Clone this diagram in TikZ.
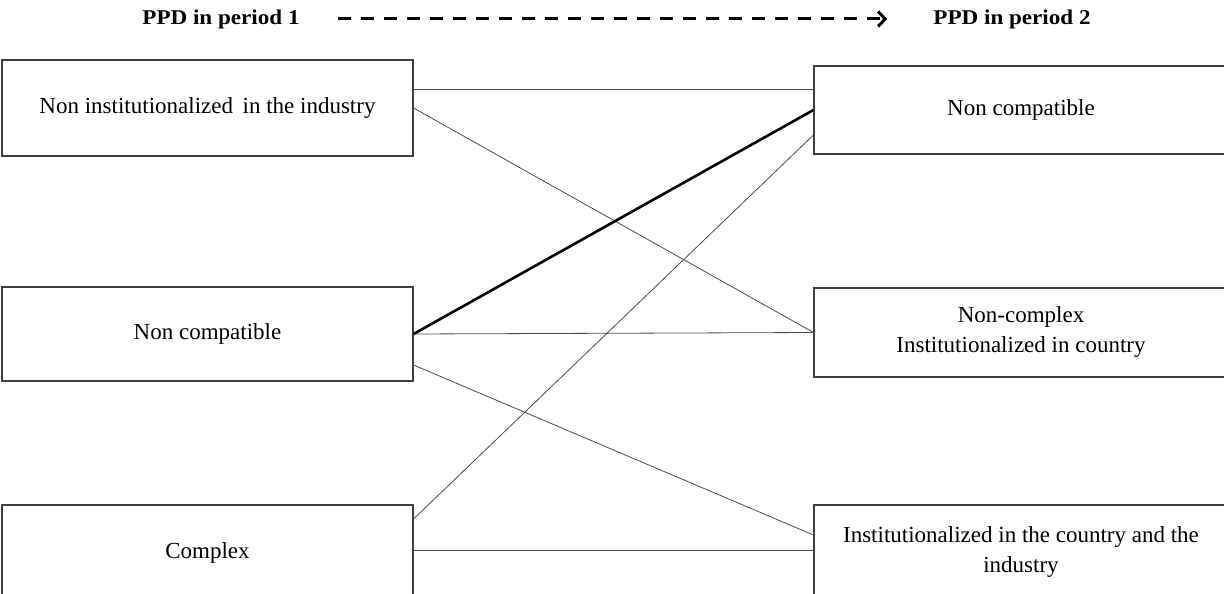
\documentclass[tikz,border=0pt]{standalone}
\usepackage{fontspec}
\setmainfont{Liberation Serif}
\usetikzlibrary{arrows.meta}
\begin{document}
\begin{tikzpicture}[x=1pt,y=-1pt,
  box/.style={draw=black!75, line width=1.1pt, rectangle, inner sep=0pt, align=center,
    font=\fontsize{23}{30}\selectfont},
  lbox/.style={box, minimum width=411pt},
  rbox/.style={box, minimum width=414pt},
  head/.style={inner sep=0pt, font=\bfseries\fontsize{21}{24}\selectfont},
  link/.style={draw=black!70, line width=0.8pt},
  strong/.style={draw=black, line width=2.6pt}]
\useasboundingbox (0,0) rectangle (1224,594);
\clip (0,0) rectangle (1224,594);
% header
\node[head] (p1) at (221,19) {\scalebox{1.1}[1]{PPD in period 1}};
\node[head] (p2) at (1012,19) {\scalebox{1.1}[1]{PPD in period 2}};
\draw[line width=3pt, dash pattern=on 13pt off 10pt,
  -{Straight Barb[length=7pt,width=15pt,line width=3pt]},
  shorten <=38pt, shorten >=46pt] (p1.east) -- (p2.west);
% left boxes
\node[lbox, minimum height=96pt] (l1) at (207.5,108) {Non institutionalized\, in the industry};
\node[lbox, minimum height=94pt] (l2) at (207.5,334) {Non compatible};
\node[lbox, minimum height=96pt] (l3) at (207.5,553) {Complex};
% right boxes
\node[rbox, minimum height=88pt] (r1) at (1021,110) {Non compatible};
\node[rbox, minimum height=89pt] (r2) at (1021,332.5) {Non-complex\\Institutionalized in country};
\node[rbox, minimum height=93pt] (r3) at (1021,551.5) {Institutionalized in the country and the\\industry};
% connectors
\draw[link] ([yshift=19pt]l1.east) -- ([yshift=21pt]r1.west);
\draw[link] (l1.east) -- (r2.west);
\draw[strong] (l2.east) -- (r1.west);
\draw[link] (l2.east) -- (r2.west);
\draw[link] ([yshift=-31pt]l2.east) -- ([yshift=16.5pt]r3.west);
\draw[link] ([yshift=34pt]l3.east) -- ([yshift=-25pt]r1.west);
\draw[link] ([yshift=3pt]l3.east) -- ([yshift=1.5pt]r3.west);
\end{tikzpicture}
\end{document}
